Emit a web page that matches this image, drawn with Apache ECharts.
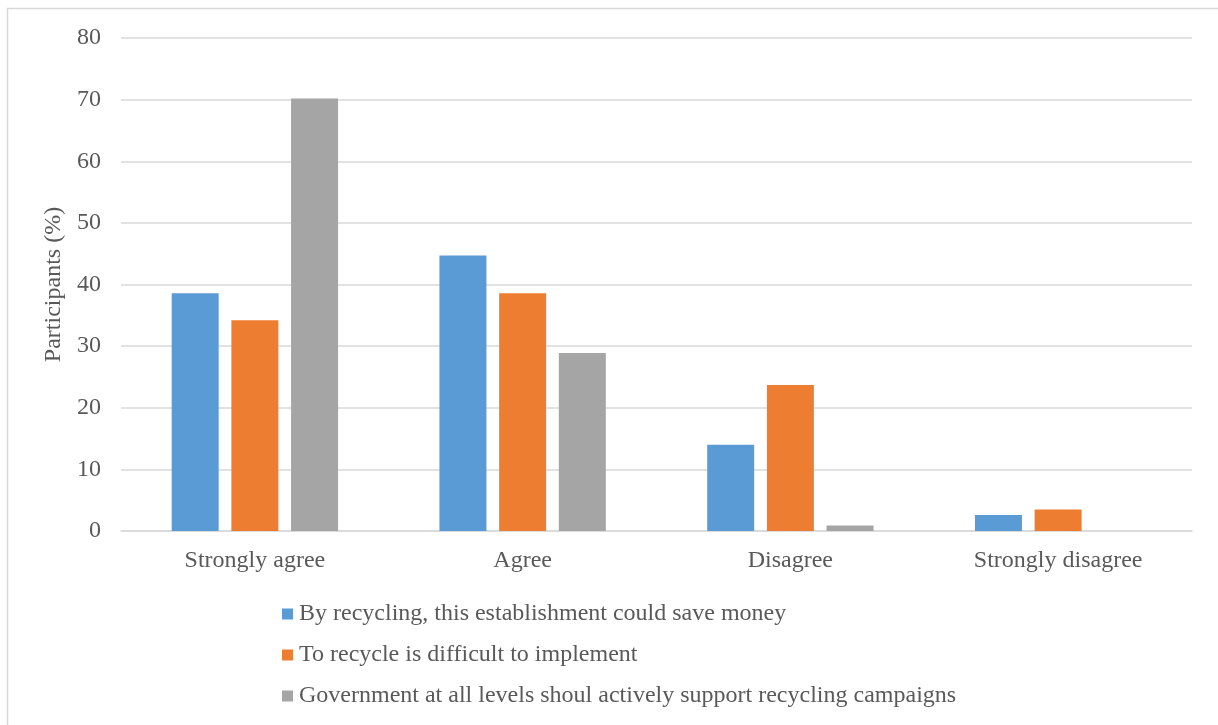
<!DOCTYPE html>
<html>
<head>
<meta charset="utf-8">
<title>Recycling attitudes</title>
<script src="https://cdn.jsdelivr.net/npm/echarts@6/dist/echarts.min.js"></script>
<style>
  html, body { margin: 0; padding: 0; background: #ffffff; }
  #chart { width: 1218px; height: 725px; }
</style>
</head>
<body>
<div id="chart"></div>
<script>
// Survey responses, share of participants (%)
const categories = ['Strongly agree', 'Agree', 'Disagree', 'Strongly disagree'];
const seriesNames = [
  'By recycling, this establishment could save money',
  'To recycle is difficult to implement',
  'Government at all levels shoul actively support recycling campaigns'
];
const saveMoney = [38.6, 44.7, 14.0, 2.6];
const difficult = [34.2, 38.6, 23.7, 3.5];
const government = [70.2, 28.9, 0.9, 0];
const yTicks = { min: 0, max: 80, interval: 10 };

const colors = ['#5B9BD5', '#ED7D31', '#A5A5A5'];
const fontFamily = '"Liberation Serif", "Times New Roman", serif';
const textColor = '#595959';

const chart = echarts.init(document.getElementById('chart'), null, { renderer: 'canvas' });

const values = [saveMoney, difficult, government];

chart.setOption({
  animation: false,
  backgroundColor: '#ffffff',
  color: colors,
  graphic: [{
    type: 'rect',
    shape: { x: 7.5, y: 8.5, width: 1400, height: 900 },
    style: { fill: 'none', stroke: '#d9d9d9', lineWidth: 1.5 },
    silent: true
  }],
  grid: { left: 121, right: 26, top: 38, bottom: 194 },
  legend: {
    orient: 'vertical',
    left: 282,
    top: 602,
    padding: 0,
    icon: 'rect',
    itemWidth: 11,
    itemHeight: 11,
    itemGap: 17,
    selectedMode: false,
    textStyle: { fontFamily, fontSize: 24, color: textColor, lineHeight: 24, padding: [0, 0, 0, 1] },
    data: seriesNames
  },
  xAxis: {
    type: 'category',
    data: categories,
    axisLine: { show: true, lineStyle: { color: '#d9d9d9', width: 1.5 } },
    axisTick: { show: false },
    axisLabel: { fontFamily, fontSize: 24, color: textColor, margin: 18 }
  },
  yAxis: {
    type: 'value',
    min: yTicks.min,
    max: yTicks.max,
    interval: yTicks.interval,
    name: 'Participants (%)',
    nameLocation: 'middle',
    nameGap: 50,
    nameTextStyle: { fontFamily, fontSize: 24, color: textColor },
    axisLine: { show: false },
    axisTick: { show: false },
    axisLabel: { fontFamily, fontSize: 24, color: textColor, margin: 20 },
    splitLine: { lineStyle: { color: '#d9d9d9', width: 1.5 } }
  },
  series: seriesNames.map((name, i) => ({
    name,
    type: 'bar',
    data: values[i],
    barWidth: 47,
    barGap: '27%'
  }))
});
</script>
</body>
</html>
